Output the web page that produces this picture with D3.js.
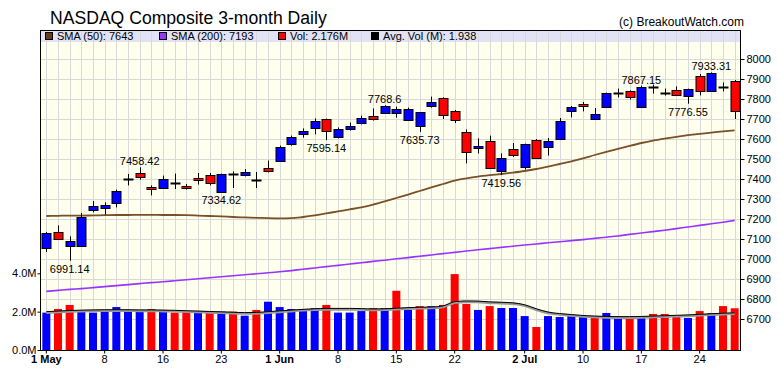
<!DOCTYPE html>
<html>
<head>
<meta charset="utf-8">
<script src="https://cdn.jsdelivr.net/npm/d3@7"></script>
<style>
  body { margin: 0; background: #fff; }
  text { font-family: "Liberation Sans", Arial, sans-serif; }
</style>
</head>
<body>
<script>
// trading days shown on the chart
const dates = [
  "2018-05-01","2018-05-02","2018-05-03","2018-05-04","2018-05-07","2018-05-08","2018-05-09","2018-05-10","2018-05-11","2018-05-14",
  "2018-05-16","2018-05-17","2018-05-18","2018-05-21","2018-05-22","2018-05-23","2018-05-24","2018-05-25","2018-05-29","2018-05-31",
  "2018-06-01","2018-06-04","2018-06-05","2018-06-06","2018-06-07","2018-06-08","2018-06-11","2018-06-12","2018-06-13","2018-06-14",
  "2018-06-15","2018-06-18","2018-06-19","2018-06-20","2018-06-21","2018-06-22","2018-06-25","2018-06-26","2018-06-27","2018-06-28",
  "2018-06-29","2018-07-02","2018-07-03","2018-07-05","2018-07-06","2018-07-09","2018-07-10","2018-07-11","2018-07-12","2018-07-13",
  "2018-07-16","2018-07-17","2018-07-18","2018-07-19","2018-07-20","2018-07-23","2018-07-24","2018-07-25","2018-07-26","2018-07-27"
];

const opens = [7055,7135,7063,7067,7245,7253,7280,7397,7430,7360, 7355,7380,7367,7405,7420,7335,7426,7418,7397,7455,
  7492,7577,7625,7657,7700,7612,7652,7678,7717,7728, 7730,7695,7662,7767,7803,7742,7637,7557,7592,7442,
  7552,7458,7597,7558,7602,7738,7775,7702,7758,7829, 7838,7758,7859,7830,7847,7813,7917,7843,7858,7892];
const highs = [7135,7168,7113,7230,7290,7283,7347,7425,7458.42,7368, 7417,7427,7375,7430,7430,7427,7438,7450,7435,7492,
  7567,7617,7653,7703,7702,7658,7682,7717,7753,7768.6, 7762,7757,7735,7812,7808,7745,7648,7603,7617,7528,
  7580,7577,7600,7605,7705,7765,7785,7755,7832,7852, 7843,7867.15,7872,7852,7863,7852,7925,7933.31,7883,7895];
const lows = [7035,7097,6991.14,7062,7233,7222,7258,7368,7397,7318, 7353,7350,7347,7372,7368,7334.62,7355,7413,7355,7433,
  7490,7567,7607,7623,7595.14,7603,7642,7673,7692,7725, 7707,7690,7635.73,7757,7700,7680,7478,7528,7450,7419.56,
  7510,7447,7503,7517,7598,7708,7738,7700,7756,7808, 7797,7755,7827,7817,7817,7776.55,7818,7840,7838,7700];
const closes = [7130,7102,7090,7210,7265,7268,7340,7398,7408,7350, 7400,7380,7355,7393,7380,7425,7424,7434,7397,7440,
  7562,7612,7640,7690,7642,7650,7665,7705,7703,7765, 7748,7750,7733,7785,7717,7695,7537,7567,7455,7505,
  7520,7575,7505,7590,7690,7760,7764,7725,7828,7831, 7810,7858,7856,7830,7822,7850,7841,7932,7855,7740];
const prevClose = 7066;

// volume in millions
const volumes = [1.95,2.14,2.35,2.03,1.95,2.09,2.24,2.09,2.09,2.14, 2.09,1.95,2.0,2.0,1.95,2.0,2.0,1.79,2.09,2.52,
  2.24,2.14,2.09,2.19,2.35,1.95,1.95,2.03,2.19,2.19, 3.09,2.09,2.29,2.29,2.35,3.96,2.40,2.09,2.29,2.19,
  2.19,1.77,1.20,1.77,1.72,1.83,1.72,1.77,1.93,1.72, 1.72,1.77,1.88,1.88,1.77,1.67,2.03,1.93,2.29,2.176];
const avgVol = [2.0,2.03,2.06,2.08,2.09,2.1,2.1,2.1,2.09,2.09, 2.08,2.07,2.05,2.03,2.01,1.99,1.97,1.95,1.96,2.0,
  2.04,2.08,2.12,2.15,2.17,2.17,2.17,2.16,2.14,2.15, 2.18,2.21,2.23,2.24,2.3,2.52,2.56,2.55,2.51,2.49,
  2.46,2.36,2.15,1.98,1.9,1.85,1.8,1.77,1.75,1.74, 1.74,1.75,1.77,1.79,1.81,1.83,1.86,1.89,1.92,1.938];

const sma50 = [7215,7216,7217,7217,7218,7219,7220,7220,7221,7221, 7220,7220,7219,7217,7215,7213,7210,7208,7206,7204,
  7203,7204,7210,7218,7228,7238,7248,7258,7272,7288, 7305,7322,7340,7358,7375,7392,7403,7412,7419,7425,
  7432,7440,7450,7462,7475,7488,7503,7520,7536,7551, 7566,7580,7592,7602,7611,7619,7626,7632,7638,7643];
const sma200 = [6838,6843,6848,6852,6857,6862,6867,6872,6877,6882, 6886,6891,6896,6901,6906,6911,6916,6921,6926,6931,
  6936,6942,6949,6955,6962,6968,6975,6981,6988,6994, 7001,7007,7014,7020,7027,7033,7040,7046,7052,7058,
  7064,7070,7075,7081,7086,7092,7097,7103,7109,7115, 7123,7130,7137,7144,7152,7160,7168,7176,7184,7193];

// swing highs / lows that carry a value label
const highMarks = [8, 29, 51, 57];
const lowMarks = [2, 15, 24, 32, 39, 55];

const tickDates = ["2018-05-01","2018-05-08","2018-05-16","2018-05-23","2018-06-01","2018-06-08",
  "2018-06-15","2018-06-22","2018-07-02","2018-07-10","2018-07-17","2018-07-24"];
const tickLabels = ["1 May","8","16","23","1 Jun","8","15","22","2 Jul","10","17","24"];
const priceTicks = d3.range(6700, 8001, 100);
const volTicks = [0, 2, 4];

const W = 780, H = 376;
const pLeft = 40.5, pRight = 740.5, pTop = 30.5, pBottom = 350.5;
const UP = "#0000ff", DOWN = "#ff0000";

const svg = d3.select("body").append("svg").attr("width", W).attr("height", H);

const x = d3.scaleBand().domain(dates).range([pLeft, pRight]);
const cx = d => x(d) + x.bandwidth() / 2;
const y = d3.scaleLinear().domain([6700, 8000]).range([319, 59]);
const yv = d3.scaleLinear().domain([0, 16.6]).range([350, 31.8]);

// background + legend band
svg.append("rect").attr("x", pLeft).attr("y", pTop).attr("width", pRight - pLeft).attr("height", pBottom - pTop).attr("fill", "#ffffee");
svg.append("rect").attr("x", pLeft).attr("y", pTop).attr("width", pRight - pLeft).attr("height", 11.5).attr("fill", "#e2e2f6");

// grid
const grid = svg.append("g").attr("stroke", "#d9d9d9").attr("stroke-width", 1);
grid.selectAll("line.v").data(dates).join("line")
  .attr("x1", d => Math.round(cx(d)) + 0.5).attr("x2", d => Math.round(cx(d)) + 0.5)
  .attr("y1", pTop).attr("y2", pBottom);
grid.selectAll("line.h").data(priceTicks).join("line")
  .attr("x1", pLeft).attr("x2", pRight)
  .attr("y1", d => Math.round(y(d)) + 0.5).attr("y2", d => Math.round(y(d)) + 0.5);

// volume bars, coloured by close vs previous close
svg.append("g").selectAll("rect").data(dates).join("rect")
  .attr("x", d => cx(d) - 4).attr("width", 8)
  .attr("y", (d, i) => yv(volumes[i])).attr("height", (d, i) => yv(0) - yv(volumes[i]))
  .attr("fill", (d, i) => closes[i] >= (i ? closes[i - 1] : prevClose) ? UP : DOWN);

// average volume line with its grey shadow
const avgLine = d3.line().x(d => cx(d)).y((d, i) => yv(avgVol[i])).curve(d3.curveMonotoneX);
svg.append("path").attr("d", avgLine(dates)).attr("fill", "none").attr("stroke", "#999").attr("stroke-width", 2.5).attr("transform", "translate(0,1)");
svg.append("path").attr("d", avgLine(dates)).attr("fill", "none").attr("stroke", "#000").attr("stroke-width", 1);

// moving averages
const smaLine = arr => d3.line().x(d => cx(d)).y((d, i) => y(arr[i])).curve(d3.curveMonotoneX)(dates);
svg.append("path").attr("d", smaLine(sma200)).attr("fill", "none").attr("stroke", "#9933ff").attr("stroke-width", 1.6);
svg.append("path").attr("d", smaLine(sma50)).attr("fill", "none").attr("stroke", "#7a5028").attr("stroke-width", 1.8);

// candles
const candles = svg.append("g").selectAll("g").data(dates).join("g");
candles.append("line")
  .attr("x1", d => Math.round(cx(d)) + 0.5).attr("x2", d => Math.round(cx(d)) + 0.5)
  .attr("y1", (d, i) => y(highs[i])).attr("y2", (d, i) => y(lows[i]))
  .attr("stroke", "#000");
candles.each(function(d, i) {
  const g = d3.select(this);
  const c = Math.round(cx(d));
  const y1 = y(Math.max(opens[i], closes[i])), y2 = y(Math.min(opens[i], closes[i]));
  if (y2 - y1 < 1) {
    g.append("line").attr("x1", c - 4.5).attr("x2", c + 5.5)
      .attr("y1", Math.round(y1) + 0.5).attr("y2", Math.round(y1) + 0.5)
      .attr("stroke", "#000").attr("stroke-width", 2);
  } else {
    g.append("rect").attr("x", c - 4).attr("width", 9)
      .attr("y", Math.round(y1) + 0.5).attr("height", Math.max(1, Math.round(y2 - y1)))
      .attr("fill", closes[i] > opens[i] ? UP : DOWN)
      .attr("stroke", "#000").attr("stroke-width", 1);
  }
});

// value labels on swing points
const ann = svg.append("g").attr("font-size", 11).attr("text-anchor", "middle").attr("fill", "#000");
ann.selectAll("text.hi").data(highMarks).join("text")
  .attr("x", i => cx(dates[i])).attr("y", i => y(highs[i]) - 2)
  .text(i => String(highs[i]));
ann.selectAll("text.lo").data(lowMarks).join("text")
  .attr("x", i => cx(dates[i])).attr("y", i => y(lows[i]) + 12)
  .text(i => String(lows[i]));

// frame
svg.append("rect").attr("x", pLeft).attr("y", pTop).attr("width", pRight - pLeft).attr("height", pBottom - pTop)
  .attr("fill", "none").attr("stroke", "#000");

// axes
const axR = svg.append("g").attr("transform", `translate(${pRight},0)`)
  .call(d3.axisRight(y).tickValues(priceTicks).tickFormat(d3.format("d")).tickSize(4).tickPadding(2));
const axL = svg.append("g").attr("transform", `translate(${pLeft},0)`)
  .call(d3.axisLeft(yv).tickValues(volTicks).tickFormat(d => d3.format(".1f")(d) + "M").tickSize(3).tickPadding(1));
const axB = svg.append("g").attr("transform", `translate(0,${pBottom})`)
  .call(d3.axisBottom(x).tickValues(tickDates).tickFormat((d, i) => tickLabels[i]).tickSize(3).tickPadding(2));
[axR, axL, axB].forEach(a => {
  a.select(".domain").remove();
  a.selectAll("text").attr("font-size", 11).attr("fill", "#000").attr("font-family", "Liberation Sans, Arial, sans-serif");
});
axB.selectAll("text").attr("font-weight", (d, i) => tickLabels[i].includes(" ") ? "bold" : "normal");

// legend
const legendItems = [
  { label: "SMA (50): " + sma50[sma50.length - 1], color: "#6b3a12", x: 45 },
  { label: "SMA (200): " + sma200[sma200.length - 1], color: "#9933ff", x: 159 },
  { label: "Vol: " + volumes[volumes.length - 1] + "M", color: "#ff0000", x: 278 },
  { label: "Avg. Vol (M): " + avgVol[avgVol.length - 1], color: "#000000", x: 371 }
];
const lg = svg.append("g").selectAll("g").data(legendItems).join("g")
  .attr("transform", d => `translate(${d.x},0)`);
lg.append("rect").attr("x", 0.5).attr("y", 32.5).attr("width", 7).attr("height", 7)
  .attr("fill", d => d.color).attr("stroke", "#000");
lg.append("text").attr("x", 12).attr("y", 40).attr("font-size", 11).text(d => d.label);

// title
svg.append("text").attr("x", 50).attr("y", 24).attr("font-size", 17.6).text("NASDAQ Composite 3-month Daily");
svg.append("text").attr("x", 744).attr("y", 26).attr("font-size", 12).attr("text-anchor", "end").text("(c) BreakoutWatch.com");
</script>
</body>
</html>
